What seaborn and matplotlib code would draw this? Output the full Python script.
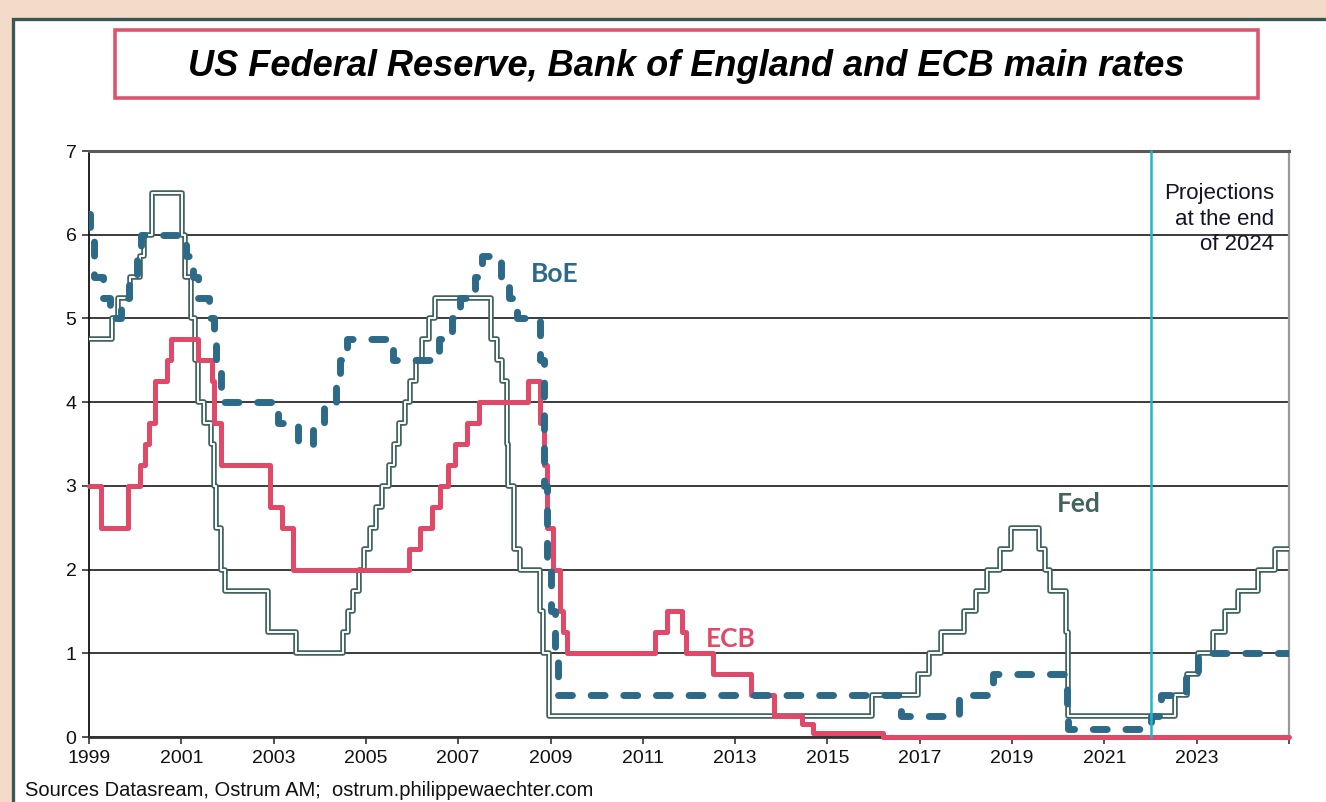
import pandas as pd
import seaborn as sns
import matplotlib.pyplot as plt
from matplotlib.patches import Rectangle

# Policy rates, step changes (decimal year, rate in %)
fed_dates = [1999.0, 1999.5, 1999.63, 1999.88, 2000.1, 2000.2, 2000.37,
             2001.01, 2001.08, 2001.21, 2001.29, 2001.37, 2001.49, 2001.64, 2001.71, 2001.75, 2001.85, 2001.94,
             2002.87, 2003.49,
             2004.5, 2004.61, 2004.72, 2004.86, 2004.95, 2005.09, 2005.22, 2005.34, 2005.5, 2005.61,
             2005.72, 2005.84, 2005.95, 2006.08, 2006.22, 2006.36, 2006.5,
             2007.71, 2007.83, 2007.94, 2008.06, 2008.08, 2008.21, 2008.33, 2008.77, 2008.83, 2008.96,
             2015.96, 2016.96, 2017.21, 2017.46, 2017.96, 2018.22, 2018.46, 2018.73, 2018.97,
             2019.58, 2019.71, 2019.83, 2020.17, 2020.21,
             2022.52, 2022.78, 2023.03, 2023.36, 2023.61, 2023.9, 2024.33, 2024.7, 2025.0]
fed_rates = [4.75, 5.0, 5.25, 5.5, 5.75, 6.0, 6.5,
             6.0, 5.5, 5.0, 4.5, 4.0, 3.75, 3.5, 3.0, 2.5, 2.0, 1.75,
             1.25, 1.0,
             1.25, 1.5, 1.75, 2.0, 2.25, 2.5, 2.75, 3.0, 3.25, 3.5,
             3.75, 4.0, 4.25, 4.5, 4.75, 5.0, 5.25,
             4.75, 4.5, 4.25, 3.5, 3.0, 2.25, 2.0, 1.5, 1.0, 0.25,
             0.5, 0.75, 1.0, 1.25, 1.5, 1.75, 2.0, 2.25, 2.5,
             2.25, 2.0, 1.75, 1.25, 0.25,
             0.5, 0.75, 1.0, 1.25, 1.5, 1.75, 2.0, 2.25, 2.25]

boe_dates = [1999.0, 1999.02, 1999.1, 1999.3, 1999.45, 1999.7, 1999.86, 2000.04, 2000.12,
             2001.11, 2001.26, 2001.36, 2001.59, 2001.71, 2001.76, 2001.85,
             2003.1, 2003.52, 2003.85, 2004.1, 2004.35, 2004.44, 2004.6, 2005.59,
             2006.59, 2006.86, 2007.03, 2007.36, 2007.51, 2007.93, 2008.1, 2008.27,
             2008.77, 2008.85, 2008.93, 2009.02, 2009.1, 2009.17,
             2016.59, 2017.84, 2018.59, 2020.19, 2020.21,
             2022.0, 2022.23, 2022.76, 2023.03, 2025.0]
boe_rates = [6.25, 6.0, 5.5, 5.25, 5.0, 5.25, 5.5, 5.75, 6.0,
             5.75, 5.5, 5.25, 5.0, 4.75, 4.5, 4.0,
             3.75, 3.5, 3.75, 4.0, 4.25, 4.5, 4.75, 4.5,
             4.75, 5.0, 5.25, 5.5, 5.75, 5.5, 5.25, 5.0,
             4.5, 3.0, 2.0, 1.5, 1.0, 0.5,
             0.25, 0.5, 0.75, 0.25, 0.1,
             0.25, 0.5, 0.75, 1.0, 1.0]

ecb_dates = [1999.0, 1999.27, 1999.84, 2000.1, 2000.21, 2000.3, 2000.44, 2000.68, 2000.77,
             2001.36, 2001.66, 2001.71, 2001.85, 2002.93, 2003.18, 2003.43,
             2005.93, 2006.18, 2006.44, 2006.6, 2006.77, 2006.94, 2007.19, 2007.45,
             2008.52, 2008.77, 2008.85, 2008.93, 2009.05, 2009.2, 2009.27, 2009.36,
             2011.27, 2011.52, 2011.84, 2011.94, 2012.52, 2013.35, 2013.85, 2014.44, 2014.69,
             2016.2, 2025.0]
ecb_rates = [3.0, 2.5, 3.0, 3.25, 3.5, 3.75, 4.25, 4.5, 4.75,
             4.5, 4.25, 3.75, 3.25, 2.75, 2.5, 2.0,
             2.25, 2.5, 2.75, 3.0, 3.25, 3.5, 3.75, 4.0,
             4.25, 3.75, 3.25, 2.5, 2.0, 1.5, 1.25, 1.0,
             1.25, 1.5, 1.25, 1.0, 0.75, 0.5, 0.25, 0.15, 0.05,
             0.0, 0.0]

year_ticks = list(range(1999, 2027, 2))
year_labels = [str(y) for y in year_ticks[:-1]] + [""]
projection_start = 2022.0

fed = pd.DataFrame({"Year": fed_dates, "Rate": fed_rates})
boe = pd.DataFrame({"Year": boe_dates, "Rate": boe_rates})
ecb = pd.DataFrame({"Year": ecb_dates, "Rate": ecb_rates})

FED_C = "#41645f"
BOE_C = "#2c6a88"
ECB_C = "#e04a68"

sns.set_style("white")
plt.rcParams["font.family"] = ["Liberation Sans", "DejaVu Sans"]

fig = plt.figure(figsize=(13.26, 8.02), dpi=100)
fig.patch.set_facecolor("#f3dbc7")

# white panel with dark border, and the title box (kept behind the axes)
fig.patches.append(Rectangle((0.0095, -0.2), 1.2, 1.176, transform=fig.transFigure,
                             facecolor="white", edgecolor="#385858", lw=2.4, zorder=-2))
fig.patches.append(Rectangle((0.0867, 0.8778), 0.862, 0.0848, transform=fig.transFigure,
                             facecolor="white", edgecolor="#dc5570", lw=2.6, zorder=-1))
fig.text(0.5177, 0.917, "US Federal Reserve, Bank of England and ECB main rates",
         ha="center", va="center", fontsize=26, fontweight="bold", style="italic", color="black")

ax = fig.add_axes([0.0671, 0.081, 0.905, 0.7307])
ax.set_zorder(2)
ax.set_facecolor("white")

# Fed: double line (dark outline, white core)
sns.lineplot(data=fed, x="Year", y="Rate", ax=ax, color=FED_C, lw=4.0,
             drawstyle="steps-post", estimator=None, sort=False, zorder=3)
sns.lineplot(data=fed, x="Year", y="Rate", ax=ax, color="white", lw=1.4,
             drawstyle="steps-post", estimator=None, sort=False, zorder=3.1)
sns.lineplot(data=ecb, x="Year", y="Rate", ax=ax, color=ECB_C, lw=3.6,
             drawstyle="steps-post", estimator=None, sort=False, zorder=4, clip_on=False)
sns.lineplot(data=boe, x="Year", y="Rate", ax=ax, color=BOE_C, lw=5.0,
             drawstyle="steps-post", estimator=None, sort=False, zorder=5,
             linestyle=(0, (2.0, 2.7)), dash_capstyle="round")

ax.axvline(projection_start, color="#1eb6cc", lw=1.8, zorder=6, clip_on=False)

ax.set_xlim(1999, 2025)
ax.set_ylim(0, 7)
ax.set_xticks(year_ticks)
ax.set_xticklabels(year_labels)
ax.set_yticks(range(0, 8))
ax.set_xlabel("")
ax.set_ylabel("")
ax.tick_params(axis="both", direction="out", length=5, width=1.2, color="#333333",
               labelsize=14, labelcolor="#111111")
ax.tick_params(axis="x", pad=4, bottom=True)
ax.tick_params(axis="y", pad=4, left=True)

ax.yaxis.grid(True, color="#1a1a1a", lw=1.2)
ax.set_axisbelow(True)
for side, c, w in [("left", "#111111", 1.3), ("bottom", "#333333", 2.0),
                   ("top", "#5a5a5a", 2.2), ("right", "#9a9a9a", 1.6)]:
    ax.spines[side].set_visible(True)
    ax.spines[side].set_color(c)
    ax.spines[side].set_linewidth(w)

ax.text(2009.1, 5.53, "BoE", color=BOE_C, fontsize=19, fontweight="bold",
        family=["Lato", "DejaVu Sans"], ha="center", va="center")
ax.text(2012.9, 1.17, "ECB", color=ECB_C, fontsize=19, fontweight="bold",
        family=["Lato", "DejaVu Sans"], ha="center", va="center")
ax.text(2020.45, 2.78, "Fed", color=FED_C, fontsize=19, fontweight="bold",
        family=["Lato", "DejaVu Sans"], ha="center", va="center")
ax.text(2024.68, 6.62, "Projections\nat the end\nof 2024", ha="right", va="top",
        fontsize=16, linespacing=1.3, color="#141428")

fig.text(0.019, 0.002, "Sources Datasream, Ostrum AM;  ostrum.philippewaechter.com",
         ha="left", va="bottom", fontsize=14.5, color="#111111")

fig.savefig("out.png", dpi=100, facecolor=fig.get_facecolor())
